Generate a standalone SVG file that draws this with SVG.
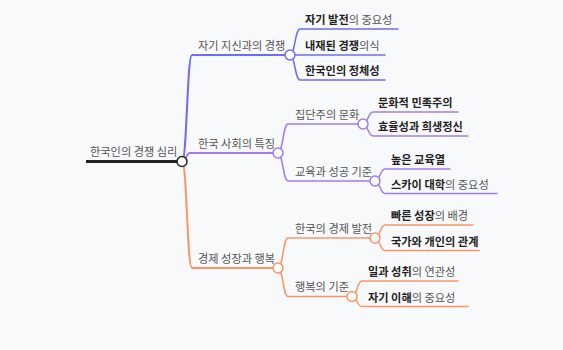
<svg xmlns="http://www.w3.org/2000/svg" width="563" height="350" viewBox="0 0 563 350">
<style>
text{font-family:"Noto Sans CJK KR","Noto Sans",sans-serif;font-size:11.2px;fill:#555}
.b{font-weight:bold;fill:#1f1f1f}
.l{fill:none;stroke-linecap:round}
.c1{stroke:#6d6cf5}
.c2{stroke:#a27af2}
.c3{stroke:#fb9567}
.d1{stroke-width:2}
.d2{stroke-width:1.5}
.dot{fill:#fff;stroke-width:1.5}
</style>
<rect width="563" height="350" fill="#f8f9fb"/>
<g id="connectors">
<path class="l c1 d1" d="M182,161.5 C187,161.5 187,55 192,55 H290"/>
<path class="l c1 d2" d="M290,55 C295,55 295,29 300,29 H398"/>
<path class="l c1 d2" d="M290,55 C295,55 295,55 300,55 H385"/>
<path class="l c1 d2" d="M290,55 C295,55 295,80 300,80 H385"/>
<path class="l c2 d1" d="M182,161.5 C186,161.5 186,153 190,153 H278"/>
<path class="l c2 d2" d="M278,153 C283,153 283,124 288,124 H363"/>
<path class="l c2 d2" d="M363,124 C368,124 368,112 373,112 H458"/>
<path class="l c2 d2" d="M363,124 C368,124 368,136 373,136 H468"/>
<path class="l c2 d2" d="M278,153 C283,153 283,181 288,181 H375"/>
<path class="l c2 d2" d="M375,181 C380,181 380,169 385,169 H450"/>
<path class="l c2 d2" d="M375,181 C380,181 380,193.5 385,193.5 H497"/>
<path class="l c3 d1" d="M182,161.5 C187,161.5 187,268 192,268 H278"/>
<path class="l c3 d2" d="M278,268 C283,268 283,238 288,238 H375"/>
<path class="l c3 d2" d="M375,238 C380,238 380,225 385,225 H473"/>
<path class="l c3 d2" d="M375,238 C380,238 380,250.5 385,250.5 H479"/>
<path class="l c3 d2" d="M278,268 C283,268 283,296.5 288,296.5 H352"/>
<path class="l c3 d2" d="M352,296.5 C357,296.5 357,281 362,281 H458"/>
<path class="l c3 d2" d="M352,296.5 C357,296.5 357,306.5 362,306.5 H468"/>
<path d="M86,161.5 H182" stroke="#222" stroke-width="3" fill="none"/>
</g>
<g id="root">
<text x="90" y="156">한국인의 경쟁 심리</text>
<circle cx="182" cy="161.5" r="5" fill="#fff" stroke="#222" stroke-width="1.5"/>
</g>
<g id="n1">
<text x="198" y="50">자기 지신과의 경쟁</text>
<circle class="dot c1" cx="290" cy="55" r="5"/>
</g>
<g id="n1a"><text x="305" y="24"><tspan class="b">자기 발전</tspan>의 중요성</text></g>
<g id="n1b"><text x="305" y="50"><tspan class="b">내재된 경쟁</tspan>의식</text></g>
<g id="n1c"><text x="305" y="75" class="b">한국인의 정체성</text></g>
<g id="n2">
<text x="198" y="148">한국 사회의 특징</text>
<circle class="dot c2" cx="278" cy="153" r="5"/>
</g>
<g id="n2a">
<text x="295" y="119">집단주의 문화</text>
<circle class="dot c2" cx="363" cy="124" r="5"/>
</g>
<g id="n2a1"><text x="378" y="107" class="b">문화적 민족주의</text></g>
<g id="n2a2"><text x="378" y="131" class="b">효율성과 희생정신</text></g>
<g id="n2b">
<text x="295" y="176">교육과 성공 기준</text>
<circle class="dot c2" cx="375" cy="181" r="5"/>
</g>
<g id="n2b1"><text x="391" y="164" class="b">높은 교육열</text></g>
<g id="n2b2"><text x="391" y="188.5"><tspan class="b">스카이 대학</tspan>의 중요성</text></g>
<g id="n3">
<text x="198" y="263">경제 성장과 행복</text>
<circle class="dot c3" cx="278" cy="268" r="5"/>
</g>
<g id="n3a">
<text x="295" y="233">한국의 경제 발전</text>
<circle class="dot c3" cx="375" cy="238" r="5"/>
</g>
<g id="n3a1"><text x="391" y="220"><tspan class="b">빠른 성장</tspan>의 배경</text></g>
<g id="n3a2"><text x="391" y="245.5" class="b">국가와 개인의 관계</text></g>
<g id="n3b">
<text x="295" y="291">행복의 기준</text>
<circle class="dot c3" cx="352" cy="296.5" r="5"/>
</g>
<g id="n3b1"><text x="368" y="276"><tspan class="b">일과 성취</tspan>의 연관성</text></g>
<g id="n3b2"><text x="368" y="301.5"><tspan class="b">자기 이해</tspan>의 중요성</text></g>
</svg>
